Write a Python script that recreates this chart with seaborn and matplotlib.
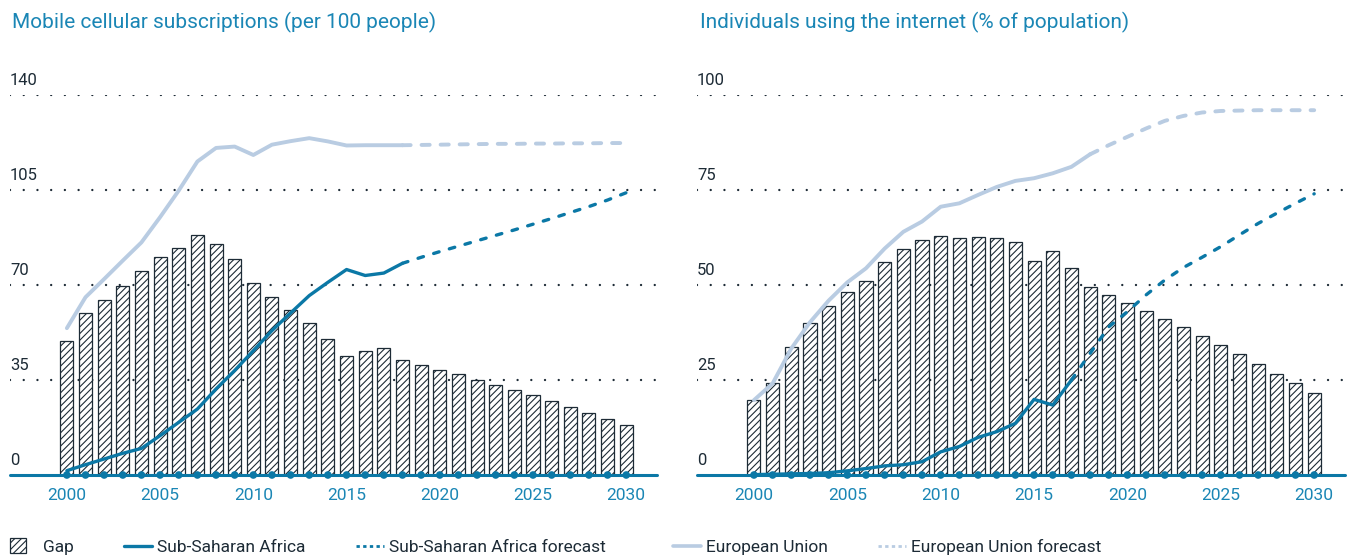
import numpy as np
import matplotlib
matplotlib.use("Agg")
import matplotlib.pyplot as plt
from matplotlib.lines import Line2D
from matplotlib.patches import Patch, Rectangle
from matplotlib.legend_handler import HandlerPatch
import seaborn as sns

# data
years = list(range(2000, 2031))
hist_mobile = list(range(2000, 2019))
fc_mobile = list(range(2018, 2031))
hist_net_eu = list(range(2000, 2019))
fc_net_eu = list(range(2018, 2031))
hist_net_ssa = list(range(2000, 2018))
fc_net_ssa = list(range(2017, 2031))

mobile_gap = [49.5, 59.6, 64.5, 69.8, 75.2, 80.2, 83.7, 88.3, 85.1, 79.6, 70.6,
              65.4, 60.9, 56.0, 50.2, 43.9, 45.7, 46.9, 42.4, 40.7, 38.8, 37.1,
              35.1, 33.3, 31.3, 29.4, 27.3, 25.1, 23.0, 20.6, 18.3]
mobile_eu = [54.1, 65.5, 72.2, 79.0, 85.7, 95.0, 104.8, 115.5, 120.5, 121.0,
             117.9, 121.7, 123.0, 124.1, 122.9, 121.4, 121.5, 121.5, 121.5]
mobile_eu_fc = [121.5, 121.6, 121.7, 121.8, 121.9, 122.0, 122.0, 122.1, 122.1,
                122.2, 122.2, 122.3, 122.3]
mobile_ssa = [1.6, 3.8, 5.9, 8.0, 9.8, 14.5, 19.4, 24.3, 31.7, 38.5, 45.8, 53.2,
              59.7, 66.1, 71.0, 75.7, 73.5, 74.4, 78.0]
mobile_ssa_fc = [78.0, 80.2, 82.3, 84.3, 86.3, 88.3, 90.3, 92.4, 94.5, 96.7,
                 98.9, 101.3, 104.0]

net_gap = [19.7, 24.3, 33.8, 40.1, 44.6, 48.2, 51.1, 56.0, 59.4, 61.8, 62.8,
           62.3, 62.5, 62.3, 61.3, 56.2, 58.9, 54.6, 49.4, 47.4, 45.3, 43.2,
           41.1, 38.9, 36.5, 34.2, 31.8, 29.3, 26.7, 24.1, 21.5]
net_eu = [19.7, 24.1, 33.3, 40.2, 45.9, 50.7, 54.4, 59.6, 64.0, 66.7, 70.6,
          71.5, 73.7, 75.8, 77.4, 78.1, 79.4, 81.1, 84.4]
net_eu_fc = [84.4, 86.8, 89.0, 91.2, 93.2, 94.5, 95.4, 95.8, 95.9, 96.0, 96.0,
             96.0, 96.0]
net_ssa = [0.1, 0.2, 0.3, 0.4, 0.6, 1.1, 1.7, 2.4, 2.7, 3.5, 6.1, 7.5, 9.9,
           11.4, 13.6, 19.9, 18.4, 25.0]
net_ssa_fc = [25.0, 32.0, 39.0, 43.0, 47.4, 51.3, 54.6, 57.3, 60.1, 63.2, 66.2,
              68.9, 71.5, 74.0]

mobile_ticks = [0, 35, 70, 105, 140]
net_ticks = [0, 25, 50, 75, 100]
year_ticks = [2000, 2005, 2010, 2015, 2020, 2025, 2030]

TEAL = "#0b78a6"
TEAL_TXT = "#1a86b5"
EU = "#b9cce2"
DARK = "#1d2b36"

sns.set_style("white")
plt.rcParams["font.family"] = ["Roboto", "DejaVu Sans"]
plt.rcParams["hatch.linewidth"] = 0.8

fig = plt.figure(figsize=(13.48, 5.59), dpi=100)
ax1 = fig.add_axes([10 / 1348, 84 / 559, 647 / 1348, 380 / 559])
ax2 = fig.add_axes([697 / 1348, 84 / 559, 648 / 1348, 380 / 559])


def panel(ax, gap, eu_x, eu, eu_fx, eu_fc, ssa_x, ssa, ssa_fx, ssa_fc, ticks):
    # dotted gridlines (0 gets the teal baseline instead)
    for t in ticks[1:]:
        ax.axhline(t, color=DARK, lw=1.7, linestyle=(0, (0.01, 5.8)),
                   dash_capstyle="round", zorder=1)
    sns.barplot(x=years, y=gap, native_scale=True, width=0.7, color="white",
                saturation=1, edgecolor=DARK, linewidth=0.9, hatch="/////",
                ax=ax, zorder=2)
    sns.lineplot(x=eu_x, y=eu, color=EU, lw=2.8, ax=ax, zorder=3,
                 solid_capstyle="round")
    sns.lineplot(x=eu_fx, y=eu_fc, color=EU, lw=2.8, ax=ax, zorder=3,
                 linestyle=(0, (2.1, 2.8)), dash_capstyle="round")
    sns.lineplot(x=ssa_x, y=ssa, color=TEAL, lw=2.4, ax=ax, zorder=4,
                 solid_capstyle="round")
    sns.lineplot(x=ssa_fx, y=ssa_fc, color=TEAL, lw=2.4, ax=ax, zorder=4,
                 linestyle=(0, (1.7, 3.2)), dash_capstyle="round")
    # baseline with year dots
    ax.axhline(0, color=TEAL, lw=2.2, clip_on=False, zorder=5)
    sns.scatterplot(x=years, y=np.zeros(len(years)), color=TEAL, s=30,
                    edgecolor="none", ax=ax, clip_on=False, zorder=6)

    ax.set_xlim(1996.95, 2031.65)
    ax.set_ylim(0, ticks[-1])
    ax.set_yticks([])
    ax.set_xticks(year_ticks)
    ax.set_xticklabels([str(y) for y in year_ticks])
    ax.tick_params(axis="x", length=0, pad=9, labelcolor=TEAL_TXT, labelsize=12.5)
    ax.set_xlabel("")
    ax.set_ylabel("")
    sns.despine(ax=ax, left=True, bottom=True)
    for t in ticks:
        ax.annotate(str(t), xy=(0, t), xycoords=("axes fraction", "data"),
                    xytext=(0, 5), textcoords="offset points", ha="left",
                    va="bottom", fontsize=12, color=DARK)


panel(ax1, mobile_gap, hist_mobile, mobile_eu, fc_mobile, mobile_eu_fc,
      hist_mobile, mobile_ssa, fc_mobile, mobile_ssa_fc, mobile_ticks)
panel(ax2, net_gap, hist_net_eu, net_eu, fc_net_eu, net_eu_fc,
      hist_net_ssa, net_ssa, fc_net_ssa, net_ssa_fc, net_ticks)

fig.text(12 / 1348, 1 - 22 / 559, "Mobile cellular subscriptions (per 100 people)",
         va="center", ha="left", fontsize=15, color=TEAL_TXT)
fig.text(700 / 1348, 1 - 22 / 559, "Individuals using the internet (% of population)",
         va="center", ha="left", fontsize=15, color=TEAL_TXT)


def square_patch(legend, orig_handle, xdescent, ydescent, width, height, fontsize):
    side = height * 1.3
    return Rectangle((-xdescent, -ydescent + (height - side) / 2), side, side)


legend_kw = dict(frameon=False, fontsize=12.5, labelcolor=DARK,
                 handlelength=1.6, handletextpad=0.3, columnspacing=2.9,
                 borderaxespad=0, borderpad=0, loc="center left")

handles_a = [
    Patch(facecolor="white", edgecolor=DARK, hatch="/////", lw=0.9),
    Line2D([], [], color=TEAL, lw=2.4),
    Line2D([], [], color=TEAL, lw=2.0, linestyle=(0, (1.2, 1.2))),
]
labels_a = ["Gap", "Sub-Saharan Africa", "Sub-Saharan Africa forecast"]
handles_b = [
    Line2D([], [], color=EU, lw=2.6),
    Line2D([], [], color=EU, lw=2.0, linestyle=(0, (1.2, 1.2))),
]
labels_b = ["European Union", "European Union forecast"]

fig.legend(handles_a, labels_a, ncol=3, bbox_to_anchor=(10 / 1348, 12 / 559),
           handler_map={Patch: HandlerPatch(patch_func=square_patch)},
           **legend_kw)
fig.legend(handles_b, labels_b, ncol=2, bbox_to_anchor=(673 / 1348, 12 / 559),
           **legend_kw)

fig.savefig("out.png", dpi=100)
